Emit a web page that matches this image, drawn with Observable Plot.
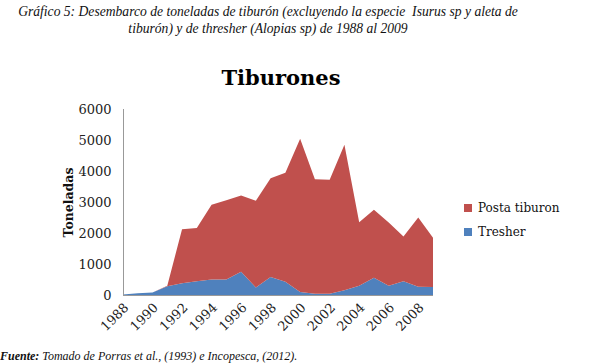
<!DOCTYPE html>
<html>
<head>
<meta charset="utf-8">
<script src="https://cdn.jsdelivr.net/npm/d3@7"></script>
<script src="https://cdn.jsdelivr.net/npm/@observablehq/plot@0.6"></script>
<style>
  html, body { margin: 0; padding: 0; background: #fff; }
  #wrap { position: relative; width: 603px; height: 364px; overflow: hidden; }
  #head { position: absolute; top: 3px; left: 0; width: 536px; text-align: center;
          font: italic 13.6px "Liberation Serif", serif; line-height: 17px; color: #111; }
  #title { position: absolute; top: 64px; left: 0; width: 562px; text-align: center;
           font: bold 21px "DejaVu Serif", serif; line-height: 28px; color: #000; }
  #chart { position: absolute; top: 95px; left: 0; }
  #legend { position: absolute; left: 464px; top: 199px; font: 12px "DejaVu Serif", serif; color: #111; }
  #legend div { height: 24px; line-height: 18px; white-space: nowrap; }
  #legend span.sw { display: inline-block; width: 8px; height: 8px; margin-right: 6px; vertical-align: 0px; }
  #cap { position: absolute; top: 348px; left: 0; font: italic 12px "Liberation Serif", serif; line-height: 16px; color: #111; white-space: nowrap; }
</style>
</head>
<body>
<div id="wrap">
  <div id="head">Gráfico 5: Desembarco de toneladas de tiburón (excluyendo la especie &nbsp;Isurus sp y aleta de<br>tiburón) y de thresher (Alopias sp) de 1988 al 2009</div>
  <div id="title">Tiburones</div>
  <div id="chart"></div>
  <div id="legend"></div>
  <div id="cap"><b>Fuente:</b> Tomado de Porras et al., (1993) e Incopesca, (2012).</div>
</div>
<script>
const years = [1988,1989,1990,1991,1992,1993,1994,1995,1996,1997,1998,1999,2000,2001,2002,2003,2004,2005,2006,2007,2008,2009];
const tresher = [20,60,80,280,380,440,500,500,750,240,580,430,100,40,40,150,300,560,300,440,270,260];
const postaTiburon = [0,0,0,20,1740,1720,2410,2560,2460,2800,3190,3510,4940,3690,3680,4700,2050,2190,2040,1450,2230,1590];
const seriesNames = ["Posta tiburon", "Tresher"];
const seriesColors = ["#C0504D", "#4F81BD"];
const yTicks = [0,1000,2000,3000,4000,5000,6000];
const xTicks = [1988,1990,1992,1994,1996,1998,2000,2002,2004,2006,2008];

const rows = [];
years.forEach((yr, i) => rows.push({year: yr, series: "Tresher", value: tresher[i]}));
years.forEach((yr, i) => rows.push({year: yr, series: "Posta tiburon", value: postaTiburon[i]}));

const chart = Plot.plot({
  width: 603,
  height: 245,
  marginTop: 14,
  marginBottom: 45,
  marginLeft: 123,
  marginRight: 170,
  x: {domain: [years[0], years[years.length - 1]]},
  y: {domain: [0, 6000]},
  color: {domain: seriesNames, range: seriesColors},
  style: {fontFamily: "DejaVu Serif", fontSize: "13px", color: "#222"},
  marks: [
    Plot.areaY(rows, {x: "year", y: "value", fill: "series", z: "series", order: ["Tresher", "Posta tiburon"]}),
    Plot.ruleY([0], {stroke: "#999", strokeWidth: 1}),
    Plot.ruleX([years[0]], {stroke: "#999", strokeWidth: 1}),
    Plot.axisY({ticks: yTicks, tickSize: 0, tickPadding: 12, tickFormat: d => String(d), label: null, fontSize: 13}),
    Plot.axisX({ticks: xTicks, tickSize: 0, tickPadding: 10, dx: 3, tickRotate: -45, tickFormat: d => String(d), label: null, fontSize: 13}),
    Plot.text(["Toneladas"], {frameAnchor: "left", textAnchor: "middle", rotate: -90, dx: -55, fontWeight: "bold", fontSize: 12.5, fill: "#111"})
  ]
});
document.getElementById("chart").appendChild(chart);

const leg = document.getElementById("legend");
seriesNames.forEach((n, i) => {
  const d = document.createElement("div");
  d.innerHTML = `<span class="sw" style="background:${seriesColors[i]}"></span>${n}`;
  leg.appendChild(d);
});
</script>
</body>
</html>
